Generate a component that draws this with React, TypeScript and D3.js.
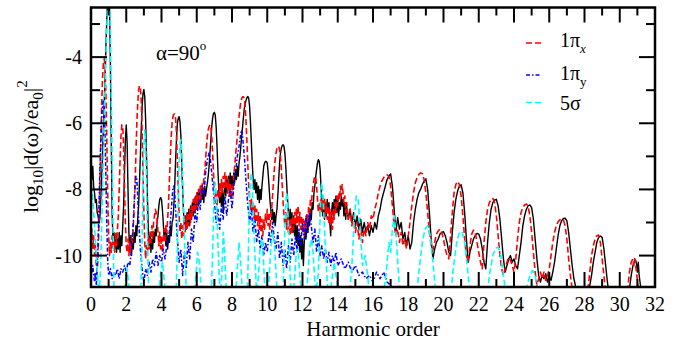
import React from 'react';
import * as d3 from 'd3';

type Pt = [number, number];

// total dipole spectrum (black, solid)
const total: Pt[] = [
  [0,-7.0],[0.05,-7.7],[0.1,-7.3],[0.15,-7.9],[0.2,-8.1],[0.25,-8.4],[0.3,-8.3],[0.35,-8.7],[0.4,-8.8],[0.45,-9.0],
  [0.5,-8.9],[0.55,-8.4],[0.6,-7.8],[0.65,-7.0],[0.7,-6.2],[0.75,-5.4],[0.8,-4.6],[0.85,-3.6],[0.9,-2.8],[0.95,-2.1],
  [1.0,-1.6],[1.05,-2.4],[1.1,-4.2],[1.15,-6.6],[1.2,-8.7],[1.25,-9.6],[1.3,-9.3],[1.35,-9.8],[1.4,-9.4],[1.45,-9.9],
  [1.5,-9.5],[1.55,-9.8],[1.6,-9.3],[1.65,-9.9],[1.7,-9.4],[1.75,-9.7],[1.8,-9.1],[1.85,-8.5],[1.9,-7.5],[1.95,-6.5],
  [2.0,-6.05],[2.05,-6.6],[2.1,-8.0],[2.15,-9.3],[2.2,-9.9],[2.25,-9.4],[2.3,-10.0],[2.35,-9.5],[2.4,-9.8],[2.45,-9.3],
  [2.5,-9.6],[2.55,-9.1],[2.6,-9.4],[2.65,-8.9],[2.7,-8.5],[2.75,-7.8],[2.8,-7.0],[2.85,-6.2],[2.9,-5.5],[2.95,-5.1],
  [3.0,-4.98],[3.05,-5.2],[3.1,-5.9],[3.15,-7.0],[3.2,-8.2],[3.25,-9.2],[3.3,-9.7],[3.35,-9.4],[3.4,-9.9],[3.45,-9.5],
  [3.5,-9.8],[3.55,-9.3],[3.6,-9.6],[3.65,-9.2],[3.7,-9.4],[3.75,-9.0],[3.8,-8.8],[3.85,-8.5],[3.9,-8.3],[3.95,-8.25],
  [4.0,-8.3],[4.05,-8.6],[4.1,-9.0],[4.15,-9.5],[4.2,-9.2],[4.25,-9.7],[4.3,-9.3],[4.35,-9.8],[4.4,-9.4],[4.45,-9.6],
  [4.5,-9.1],[4.55,-9.4],[4.6,-9.0],[4.65,-8.9],[4.7,-8.5],[4.75,-7.9],[4.8,-7.1],[4.85,-6.5],[4.9,-6.0],[4.95,-5.85],
  [5.0,-5.8],[5.05,-5.95],[5.1,-6.4],[5.15,-7.2],[5.2,-8.0],[5.25,-8.7],[5.3,-9.1],[5.35,-8.8],[5.4,-9.2],[5.45,-8.7],
  [5.5,-9.0],[5.55,-8.6],[5.6,-9.1],[5.65,-8.5],[5.7,-8.9],[5.75,-8.4],[5.8,-8.8],[5.85,-8.3],[5.9,-8.7],[5.95,-8.2],
  [6.0,-8.6],[6.05,-8.1],[6.1,-8.5],[6.15,-8.0],[6.2,-8.4],[6.25,-7.9],[6.3,-8.3],[6.35,-8.0],[6.4,-8.4],[6.45,-7.9],
  [6.5,-8.2],[6.55,-8.0],[6.6,-7.8],[6.65,-7.6],[6.7,-7.3],[6.75,-6.9],[6.8,-6.5],[6.85,-6.1],[6.9,-5.85],[6.95,-5.7],
  [7.0,-5.67],[7.05,-5.75],[7.1,-6.1],[7.15,-6.7],[7.2,-7.4],[7.25,-8.0],[7.3,-8.4],[7.35,-8.1],[7.4,-8.5],[7.45,-8.0],
  [7.5,-8.7],[7.55,-8.1],[7.6,-7.8],[7.65,-8.2],[7.7,-7.7],[7.75,-8.1],[7.8,-7.6],[7.85,-8.0],[7.9,-7.5],[7.95,-7.9],
  [8.0,-7.6],[8.05,-8.0],[8.1,-7.5],[8.15,-7.8],[8.2,-7.4],[8.25,-7.7],[8.3,-7.3],[8.35,-7.6],[8.4,-7.2],[8.45,-7.0],
  [8.5,-6.7],[8.55,-6.4],[8.6,-6.1],[8.65,-5.8],[8.7,-5.55],[8.75,-5.4],[8.8,-5.3],[8.85,-5.22],[8.9,-5.19],[8.95,-5.25],
  [9.0,-5.5],[9.05,-6.0],[9.1,-6.6],[9.15,-7.2],[9.2,-7.7],[9.25,-8.0],[9.3,-7.7],[9.35,-8.1],[9.4,-7.8],[9.45,-8.3],
  [9.5,-7.9],[9.55,-8.4],[9.6,-8.0],[9.65,-8.3],[9.7,-7.9],[9.75,-7.6],[9.8,-7.3],[9.85,-7.2],[9.9,-7.15],[9.95,-7.16],
  [10.0,-7.2],[10.05,-7.5],[10.1,-7.9],[10.15,-8.3],[10.2,-8.6],[10.25,-8.9],[10.3,-8.6],[10.35,-9.0],[10.4,-8.7],[10.45,-9.1],
  [10.5,-8.8],[10.55,-8.6],[10.6,-8.2],[10.65,-7.7],[10.7,-7.2],[10.75,-6.9],[10.8,-6.75],[10.85,-6.68],[10.9,-6.65],[10.95,-6.7],
  [11.0,-6.9],[11.05,-7.3],[11.1,-7.8],[11.15,-8.3],[11.2,-8.7],[11.25,-9.0],[11.3,-8.6],[11.35,-9.1],[11.4,-8.7],[11.45,-9.3],
  [11.5,-8.8],[11.55,-9.4],[11.6,-9.0],[11.65,-9.6],[11.7,-9.1],[11.75,-9.7],[11.8,-9.3],[11.85,-9.9],[11.9,-9.4],[11.95,-10.1],
  [12.0,-9.5],[12.05,-10.3],[12.1,-9.6],[12.15,-9.2],[12.2,-9.5],[12.25,-9.0],[12.3,-9.3],[12.35,-8.8],[12.4,-9.1],[12.45,-8.6],
  [12.5,-8.9],[12.55,-8.4],[12.6,-8.6],[12.65,-8.1],[12.7,-7.9],[12.75,-7.6],[12.8,-7.4],[12.85,-7.2],[12.9,-7.1],[12.95,-7.15],
  [13.0,-7.4],[13.05,-7.9],[13.1,-8.4],[13.15,-8.8],[13.2,-8.5],[13.25,-8.9],[13.3,-8.4],[13.35,-8.8],[13.4,-8.3],[13.45,-8.7],
  [13.5,-8.4],[13.55,-9.0],[13.6,-9.4],[13.65,-8.7],[13.7,-8.4],[13.75,-8.8],[13.8,-8.3],[13.85,-8.6],[13.9,-8.2],[13.95,-8.7],
  [14.0,-8.3],[14.05,-8.8],[14.1,-8.4],[14.15,-8.6],[14.2,-8.2],[14.25,-8.5],[14.3,-8.3],[14.35,-8.8],[14.4,-8.4],[14.45,-8.9],
  [14.5,-8.5],[14.6,-8.9],[14.7,-8.6],[14.8,-9.0],[14.9,-8.7],[15.0,-9.1],[15.1,-8.8],[15.2,-9.2],[15.3,-8.9],[15.4,-9.3],
  [15.5,-9.0],[15.6,-9.3],[15.7,-9.1],[15.8,-9.4],[15.9,-9.1],[16.0,-9.3],[16.1,-9.0],[16.2,-9.2],[16.3,-8.8],[16.4,-8.6],
  [16.5,-8.3],[16.6,-8.1],[16.7,-7.9],[16.8,-7.7],[16.9,-7.6],[17.0,-7.53],[17.1,-7.9],[17.2,-8.6],[17.3,-9.3],[17.4,-8.85],
  [17.5,-9.2],[17.6,-9.0],[17.7,-9.5],[17.8,-9.3],[17.9,-9.7],[18.0,-9.4],[18.1,-9.8],[18.2,-9.6],[18.3,-9.0],[18.4,-8.6],
  [18.5,-8.3],[18.6,-8.1],[18.7,-8.0],[18.8,-7.85],[18.9,-7.75],[19.0,-7.68],[19.1,-8.0],[19.2,-8.7],[19.3,-9.5],[19.4,-10.1],
  [19.5,-9.8],[19.6,-9.6],[19.7,-9.5],[19.8,-9.35],[19.9,-9.3],[20.0,-9.28],[20.1,-9.4],[20.2,-9.6],[20.3,-9.9],[20.4,-10.0],
  [20.5,-9.3],[20.6,-8.7],[20.7,-8.3],[20.8,-8.05],[20.9,-7.9],[21.0,-7.86],[21.1,-8.1],[21.2,-8.7],[21.3,-9.5],[21.4,-10.2],
  [21.5,-9.9],[21.6,-9.7],[21.7,-9.5],[21.8,-9.4],[21.9,-9.33],[22.0,-9.35],[22.1,-9.5],[22.2,-9.8],[22.3,-10.2],[22.4,-10.4],
  [22.5,-9.6],[22.6,-9.0],[22.7,-8.6],[22.8,-8.4],[22.9,-8.32],[23.0,-8.3],[23.1,-8.5],[23.2,-8.9],[23.3,-9.5],[23.4,-10.1],
  [23.5,-10.5],[23.6,-10.3],[23.7,-10.1],[23.8,-10.0],[23.9,-10.2],[24.0,-10.1],[24.1,-10.3],[24.2,-10.4],[24.3,-10.0],[24.4,-9.6],
  [24.5,-9.1],[24.6,-8.8],[24.7,-8.6],[24.8,-8.5],[24.9,-8.47],[25.0,-8.55],[25.1,-8.9],[25.2,-9.5],[25.3,-10.1],[25.4,-10.6],
  [25.5,-10.8],[25.6,-10.6],[25.7,-10.7],[25.8,-10.55],[25.9,-10.8],[26.0,-10.6],[26.1,-10.75],[26.2,-10.5],[26.3,-10.2],[26.4,-9.8],
  [26.5,-9.4],[26.6,-9.1],[26.7,-8.95],[26.8,-8.88],[26.9,-8.87],[27.0,-8.95],[27.1,-9.3],[27.2,-9.8],[27.3,-10.3],[27.4,-10.7],
  [27.5,-10.95],[27.7,-11.0],[27.9,-10.95],[28.1,-11.0],[28.3,-10.9],[28.4,-10.6],[28.5,-10.2],[28.6,-9.9],[28.7,-9.6],[28.8,-9.45],
  [28.9,-9.41],[29.0,-9.45],[29.1,-9.8],[29.2,-10.3],[29.3,-10.8],[29.4,-11.2],[29.6,-11.4],[30.4,-11.4],[30.55,-11.0],[30.65,-10.6],
  [30.75,-10.3],[30.85,-10.15],[30.9,-10.14],[30.95,-10.25],[31.0,-10.5],[31.05,-10.2],[31.1,-10.6],[31.2,-11.0],[31.3,-11.4],
];

// 1pi_x orbital (red, dashed)
const piX: Pt[] = [
  [0,-9.6],[0.05,-9.2],[0.1,-9.8],[0.15,-9.4],[0.2,-10.0],[0.25,-9.7],[0.3,-10.3],[0.35,-10.5],[0.4,-10.0],[0.45,-9.1],
  [0.5,-8.0],[0.55,-6.8],[0.6,-5.6],[0.65,-4.7],[0.7,-4.2],[0.75,-4.05],[0.8,-4.3],[0.85,-5.2],[0.9,-6.6],[0.95,-8.2],
  [1.0,-9.4],[1.05,-10.0],[1.1,-9.6],[1.15,-9.9],[1.2,-9.4],[1.25,-9.8],[1.3,-9.5],[1.35,-9.9],[1.4,-9.3],[1.45,-9.7],
  [1.5,-9.2],[1.55,-8.8],[1.6,-8.0],[1.65,-7.1],[1.7,-6.4],[1.75,-6.05],[1.8,-6.1],[1.85,-6.7],[1.9,-7.9],[1.95,-9.0],
  [2.0,-9.7],[2.05,-9.9],[2.1,-9.5],[2.15,-10.0],[2.2,-9.6],[2.25,-9.9],[2.3,-9.4],[2.35,-9.6],[2.4,-9.1],[2.45,-8.6],
  [2.5,-7.8],[2.55,-6.9],[2.6,-6.0],[2.65,-5.4],[2.7,-5.0],[2.75,-4.87],[2.8,-4.9],[2.85,-5.3],[2.9,-6.2],[2.95,-7.5],
  [3.0,-8.7],[3.05,-9.6],[3.1,-10.1],[3.15,-9.7],[3.2,-9.9],[3.25,-9.4],[3.3,-9.8],[3.35,-9.3],[3.4,-9.6],[3.45,-9.1],
  [3.5,-9.5],[3.55,-9.0],[3.6,-8.8],[3.65,-8.6],[3.7,-8.7],[3.75,-8.9],[3.8,-9.3],[3.85,-9.7],[3.9,-9.3],[3.95,-9.8],
  [4.0,-9.4],[4.05,-9.9],[4.1,-9.5],[4.15,-9.2],[4.2,-9.6],[4.25,-9.1],[4.3,-9.3],[4.35,-8.9],[4.4,-8.4],[4.45,-7.7],
  [4.5,-7.0],[4.55,-6.4],[4.6,-6.0],[4.65,-5.8],[4.7,-5.73],[4.75,-5.72],[4.8,-5.85],[4.85,-6.3],[4.9,-7.1],[4.95,-8.0],
  [5.0,-8.8],[5.05,-9.3],[5.1,-9.0],[5.15,-9.5],[5.2,-9.1],[5.25,-9.4],[5.3,-8.9],[5.35,-9.3],[5.4,-8.8],[5.45,-9.2],
  [5.5,-8.7],[5.55,-9.1],[5.6,-8.6],[5.65,-9.0],[5.7,-8.5],[5.75,-8.8],[5.8,-8.3],[5.85,-8.7],[5.9,-8.2],[5.95,-8.6],
  [6.0,-8.1],[6.05,-8.5],[6.1,-8.0],[6.15,-8.4],[6.2,-7.9],[6.25,-8.3],[6.3,-7.8],[6.35,-8.1],[6.4,-7.7],[6.45,-7.5],
  [6.5,-7.1],[6.55,-6.7],[6.6,-6.4],[6.65,-6.2],[6.7,-6.1],[6.75,-6.05],[6.8,-6.1],[6.85,-6.4],[6.9,-6.9],[6.95,-7.5],
  [7.0,-8.0],[7.05,-8.4],[7.1,-8.1],[7.15,-8.5],[7.2,-8.0],[7.25,-8.3],[7.3,-7.8],[7.35,-8.2],[7.4,-7.7],[7.45,-8.1],
  [7.5,-7.6],[7.55,-8.0],[7.6,-7.5],[7.65,-7.9],[7.7,-7.6],[7.75,-8.1],[7.8,-7.7],[7.85,-8.2],[7.9,-7.8],[7.95,-8.3],
  [8.0,-7.9],[8.05,-8.2],[8.1,-7.6],[8.15,-7.3],[8.2,-7.0],[8.25,-6.7],[8.3,-6.4],[8.35,-6.1],[8.4,-5.8],[8.45,-5.55],
  [8.5,-5.35],[8.55,-5.25],[8.6,-5.2],[8.65,-5.2],[8.7,-5.25],[8.75,-5.5],[8.8,-6.0],[8.85,-6.6],[8.9,-7.3],[8.95,-7.9],
  [9.0,-8.3],[9.05,-8.6],[9.1,-8.3],[9.15,-8.7],[9.2,-8.4],[9.25,-8.9],[9.3,-8.5],[9.35,-9.0],[9.4,-8.6],[9.45,-9.1],
  [9.5,-8.7],[9.55,-9.2],[9.6,-8.8],[9.65,-9.3],[9.7,-8.9],[9.75,-9.4],[9.8,-8.9],[9.85,-9.2],[9.9,-8.7],[9.95,-9.0],
  [10.0,-8.6],[10.05,-9.1],[10.1,-8.7],[10.15,-9.2],[10.2,-8.9],[10.25,-8.6],[10.3,-8.2],[10.35,-7.8],[10.4,-7.4],[10.45,-7.1],
  [10.5,-6.9],[10.55,-6.75],[10.6,-6.7],[10.65,-6.7],[10.7,-6.8],[10.75,-7.0],[10.8,-7.4],[10.85,-7.9],[10.9,-8.4],[10.95,-8.8],
  [11.0,-9.1],[11.05,-8.7],[11.1,-9.2],[11.15,-8.8],[11.2,-9.3],[11.25,-8.9],[11.3,-9.4],[11.35,-8.9],[11.4,-9.3],[11.45,-8.8],
  [11.5,-9.2],[11.55,-8.7],[11.6,-9.1],[11.65,-8.6],[11.7,-9.0],[11.75,-8.5],[11.8,-9.1],[11.85,-8.7],[11.9,-9.2],[11.95,-8.8],
  [12.0,-9.3],[12.05,-8.9],[12.1,-9.4],[12.15,-8.9],[12.2,-9.2],[12.25,-8.7],[12.3,-9.0],[12.35,-8.5],[12.4,-8.8],[12.45,-8.3],
  [12.5,-8.5],[12.55,-8.1],[12.6,-7.9],[12.65,-7.7],[12.7,-7.6],[12.75,-7.65],[12.8,-7.9],[12.85,-8.3],[12.9,-8.7],[12.95,-8.4],
  [13.0,-8.8],[13.05,-8.3],[13.1,-8.7],[13.15,-8.2],[13.2,-8.6],[13.25,-8.3],[13.3,-8.8],[13.35,-8.4],[13.4,-8.9],[13.45,-8.5],
  [13.5,-9.0],[13.55,-8.6],[13.6,-9.1],[13.65,-8.7],[13.7,-9.2],[13.75,-8.6],[13.8,-8.9],[13.85,-8.4],[13.9,-8.7],[13.95,-8.2],
  [14.0,-8.5],[14.05,-8.1],[14.1,-8.3],[14.15,-7.9],[14.2,-8.2],[14.25,-7.85],[14.3,-8.1],[14.35,-8.4],[14.4,-8.2],[14.45,-8.7],
  [14.5,-8.4],[14.6,-8.9],[14.7,-8.6],[14.8,-9.1],[14.9,-8.8],[15.0,-9.3],[15.1,-9.0],[15.2,-9.5],[15.3,-9.1],[15.4,-9.6],
  [15.5,-9.2],[15.6,-9.4],[15.7,-9.0],[15.8,-9.2],[15.9,-8.8],[16.0,-8.9],[16.1,-8.6],[16.2,-8.4],[16.3,-8.1],[16.4,-7.9],
  [16.5,-7.75],[16.6,-7.65],[16.7,-7.58],[16.8,-7.56],[16.9,-7.6],[17.0,-7.9],[17.1,-8.5],[17.2,-9.1],[17.3,-9.4],[17.4,-9.2],
  [17.5,-9.6],[17.6,-9.3],[17.7,-9.7],[17.8,-9.5],[17.9,-9.8],[18.0,-9.4],[18.1,-9.0],[18.2,-8.5],[18.3,-8.1],[18.4,-7.8],
  [18.5,-7.65],[18.6,-7.55],[18.7,-7.5],[18.8,-7.52],[18.9,-7.7],[19.0,-8.1],[19.1,-8.7],[19.2,-9.3],[19.3,-9.7],[19.4,-9.83],
  [19.5,-9.6],[19.6,-9.35],[19.7,-9.25],[19.8,-9.2],[19.9,-9.3],[20.0,-9.5],[20.1,-9.8],[20.2,-10.0],[20.3,-10.1],[20.4,-9.4],
  [20.5,-8.7],[20.6,-8.1],[20.7,-7.85],[20.8,-7.76],[20.9,-7.85],[21.0,-8.2],[21.1,-8.8],[21.2,-9.5],[21.3,-10.0],[21.4,-10.2],
  [21.5,-9.7],[21.6,-9.35],[21.7,-9.23],[21.8,-9.3],[21.9,-9.6],[22.0,-9.9],[22.1,-10.2],[22.2,-10.4],[22.3,-9.6],[22.4,-9.0],
  [22.5,-8.6],[22.6,-8.4],[22.7,-8.3],[22.8,-8.27],[22.9,-8.4],[23.0,-8.8],[23.1,-9.4],[23.2,-10.0],[23.3,-10.4],[23.4,-10.6],
  [23.5,-10.4],[23.6,-10.2],[23.7,-10.05],[23.8,-10.15],[23.9,-10.3],[24.0,-10.5],[24.1,-10.1],[24.2,-9.5],[24.3,-9.0],[24.4,-8.7],
  [24.5,-8.55],[24.6,-8.47],[24.7,-8.44],[24.8,-8.5],[24.9,-8.8],[25.0,-9.3],[25.1,-9.9],[25.2,-10.5],[25.3,-10.9],[25.4,-10.7],
  [25.5,-10.5],[25.6,-10.7],[25.7,-10.5],[25.8,-10.75],[25.9,-10.6],[26.0,-10.4],[26.1,-10.0],[26.2,-9.6],[26.3,-9.3],[26.4,-9.1],
  [26.5,-8.98],[26.6,-8.92],[26.7,-8.9],[26.8,-8.92],[26.9,-9.1],[27.0,-9.5],[27.1,-10.1],[27.2,-10.6],[27.3,-11.0],[27.4,-11.3],
  [28.0,-11.3],[28.2,-11.0],[28.3,-10.5],[28.4,-10.0],[28.5,-9.7],[28.6,-9.5],[28.7,-9.4],[28.8,-9.38],[28.9,-9.6],[29.0,-10.1],
  [29.1,-10.6],[29.2,-11.1],[29.3,-11.4],[30.3,-11.4],[30.45,-11.0],[30.55,-10.5],[30.65,-10.2],[30.75,-10.1],[30.8,-10.3],[30.85,-10.09],
  [30.95,-10.5],[31.05,-11.0],[31.15,-11.4],
];

// 1pi_y orbital (blue, dash-dot)
const piY: Pt[] = [
  [0,-10.2],[0.05,-10.5],[0.1,-10.3],[0.15,-10.6],[0.2,-10.8],[0.25,-10.5],[0.3,-10.9],[0.35,-10.4],[0.4,-9.6],[0.45,-8.6],
  [0.5,-7.5],[0.55,-6.6],[0.6,-5.9],[0.65,-5.5],[0.7,-5.3],[0.75,-5.5],[0.8,-6.4],[0.85,-7.8],[0.9,-9.2],[0.95,-10.2],
  [1.0,-10.6],[1.1,-10.4],[1.2,-10.7],[1.3,-10.5],[1.4,-10.6],[1.5,-10.4],[1.6,-10.7],[1.7,-10.4],[1.8,-10.5],[1.9,-10.3],
  [2.0,-10.5],[2.1,-10.2],[2.2,-10.3],[2.3,-9.8],[2.4,-9.0],[2.45,-8.4],[2.5,-7.9],[2.55,-7.6],[2.6,-7.7],[2.65,-8.2],
  [2.7,-8.9],[2.8,-9.8],[2.9,-10.4],[3.0,-10.8],[3.1,-10.4],[3.2,-10.6],[3.3,-10.2],[3.4,-10.5],[3.5,-10.1],[3.6,-10.3],
  [3.7,-9.9],[3.8,-10.3],[3.9,-10.0],[4.0,-10.2],[4.1,-9.8],[4.2,-10.1],[4.3,-9.7],[4.4,-9.5],[4.5,-9.0],[4.6,-8.3],
  [4.65,-7.95],[4.7,-7.9],[4.75,-8.1],[4.8,-8.6],[4.9,-9.5],[5.0,-10.2],[5.1,-9.8],[5.2,-10.6],[5.3,-9.9],[5.4,-10.4],
  [5.5,-9.6],[5.6,-10.1],[5.7,-9.2],[5.8,-9.6],[5.9,-8.7],[6.0,-9.0],[6.1,-8.3],[6.2,-8.6],[6.3,-7.9],[6.4,-8.2],
  [6.5,-7.5],[6.6,-7.1],[6.7,-6.9],[6.8,-7.2],[6.9,-7.8],[7.0,-8.4],[7.1,-9.0],[7.2,-8.6],[7.3,-9.2],[7.4,-8.5],
  [7.5,-8.9],[7.6,-8.2],[7.7,-8.8],[7.8,-8.3],[7.9,-8.0],[8.0,-8.6],[8.1,-7.9],[8.2,-7.5],[8.3,-7.0],[8.4,-6.7],
  [8.5,-6.3],[8.55,-6.2],[8.6,-6.4],[8.7,-7.0],[8.8,-7.8],[8.9,-8.5],[9.0,-9.0],[9.1,-8.6],[9.2,-9.3],[9.3,-8.9],
  [9.4,-9.6],[9.5,-9.2],[9.6,-9.8],[9.7,-9.4],[9.8,-10.0],[9.9,-9.6],[10.0,-9.9],[10.1,-9.3],[10.2,-9.6],[10.3,-9.0],
  [10.4,-9.5],[10.5,-9.8],[10.6,-9.3],[10.7,-10.1],[10.8,-9.6],[10.9,-10.3],[11.0,-9.8],[11.1,-10.4],[11.2,-9.7],[11.3,-10.2],
  [11.4,-9.5],[11.5,-10.0],[11.6,-9.4],[11.7,-9.9],[11.8,-9.2],[11.9,-9.7],[12.0,-9.0],[12.1,-9.5],[12.2,-8.8],[12.3,-9.3],
  [12.4,-8.7],[12.5,-9.1],[12.6,-9.6],[12.7,-9.2],[12.8,-9.9],[12.9,-9.4],[13.0,-10.0],[13.1,-9.7],[13.2,-10.1],[13.3,-9.8],
  [13.4,-10.2],[13.5,-9.9],[13.6,-10.3],[13.7,-10.0],[13.8,-10.2],[13.9,-9.9],[14.0,-10.3],[14.2,-10.1],[14.4,-10.4],[14.6,-10.2],
  [14.8,-10.5],[15.0,-10.3],[15.2,-10.6],[15.4,-10.5],[15.6,-10.7],[15.8,-10.6],[16.0,-10.8],[16.2,-10.5],[16.4,-10.7],[16.6,-10.5],
  [16.8,-10.8],[17.0,-10.9],[17.2,-11.1],[17.4,-11.3],[18.0,-11.5],
];

// 5sigma orbital (cyan, dashed)
const sigma5: Pt[] = [
  [0,-7.6],[0.1,-8.3],[0.2,-9.1],[0.3,-10.0],[0.4,-10.8],[0.45,-11.3],[0.55,-10.3],[0.65,-8.1],[0.75,-5.9],[0.85,-3.9],
  [0.95,-2.2],[1.0,-1.6],[1.05,-2.0],[1.1,-3.3],[1.15,-5.1],[1.2,-7.1],[1.25,-9.1],[1.3,-10.9],[1.35,-11.6],[1.8,-11.6],
  [1.95,-10.8],[2.05,-10.4],[2.15,-10.9],[2.3,-11.6],[2.8,-11.6],[2.9,-9.5],[2.95,-7.8],[3.0,-6.7],[3.05,-6.2],[3.1,-6.6],
  [3.15,-7.8],[3.2,-9.5],[3.3,-11.6],[3.8,-11.6],[3.95,-10.5],[4.05,-10.2],[4.15,-10.7],[4.3,-11.6],[4.8,-11.6],[4.9,-9.8],
  [4.95,-8.3],[5.0,-7.2],[5.05,-6.6],[5.1,-6.5],[5.15,-6.8],[5.2,-7.7],[5.3,-9.4],[5.4,-11.0],[5.5,-11.6],[5.85,-11.6],
  [5.95,-10.6],[6.05,-9.9],[6.15,-10.2],[6.25,-11.0],[6.35,-11.6],[6.8,-11.6],[6.9,-9.9],[6.95,-8.8],[7.0,-8.0],[7.05,-7.8],
  [7.1,-8.1],[7.15,-8.9],[7.25,-10.3],[7.35,-11.4],[7.45,-10.2],[7.5,-9.3],[7.55,-9.6],[7.65,-10.8],[7.75,-11.6],[8.15,-11.6],
  [8.3,-10.4],[8.4,-9.6],[8.5,-10.3],[8.65,-11.6],[8.85,-11.6],[8.95,-9.4],[9.0,-8.2],[9.05,-7.6],[9.1,-7.5],[9.15,-7.8],
  [9.2,-8.6],[9.3,-10.0],[9.4,-11.2],[9.5,-10.6],[9.6,-9.7],[9.7,-9.5],[9.8,-10.3],[9.9,-11.4],[10.05,-11.2],[10.2,-9.8],
  [10.3,-9.3],[10.4,-9.6],[10.55,-11.0],[10.7,-11.6],[10.9,-11.0],[11.0,-9.2],[11.05,-8.4],[11.1,-8.1],[11.15,-8.3],[11.2,-9.1],
  [11.3,-10.6],[11.4,-11.6],[11.55,-10.7],[11.65,-9.9],[11.75,-9.8],[11.85,-10.6],[12.0,-11.6],[12.25,-11.0],[12.4,-9.8],[12.5,-9.5],
  [12.6,-9.9],[12.75,-11.2],[12.9,-10.5],[13.0,-8.8],[13.05,-8.0],[13.1,-7.8],[13.15,-8.1],[13.25,-9.2],[13.4,-10.8],[13.5,-11.6],
  [13.65,-10.8],[13.8,-10.2],[13.95,-10.8],[14.1,-11.6],[14.6,-11.6],[14.8,-10.3],[14.95,-8.8],[15.05,-8.2],[15.15,-8.3],[15.25,-9.0],
  [15.4,-10.3],[15.55,-10.0],[15.7,-10.6],[15.85,-11.6],[16.5,-11.6],[16.75,-10.5],[16.9,-9.6],[17.0,-9.9],[17.1,-9.2],[17.2,-8.8],
  [17.3,-9.3],[17.45,-10.6],[17.6,-11.6],[18.4,-11.6],[18.6,-10.5],[18.8,-9.6],[18.95,-9.2],[19.1,-9.1],[19.25,-9.4],[19.45,-10.5],
  [19.65,-11.6],[20.35,-11.6],[20.55,-10.4],[20.75,-9.6],[20.9,-9.3],[21.05,-9.28],[21.2,-9.6],[21.4,-10.6],[21.6,-11.6],[22.4,-11.6],
  [22.6,-10.6],[22.8,-10.0],[22.95,-9.78],[23.1,-9.74],[23.25,-10.0],[23.45,-10.8],[23.6,-11.6],[24.5,-11.6],[24.7,-11.0],[24.9,-10.6],
  [25.05,-10.45],[25.2,-10.6],[25.4,-11.2],[25.55,-11.6],
];

const xMajor = d3.range(0, 33, 2);
const xMinor = d3.range(1, 32, 2);
const yMajor = [-4, -6, -8, -10];
const yMinor = [-3, -5, -7, -9];

const W = 682, H = 341;
const L = 91, R = 655, T = 7.5, B = 287;
const serif = '"Liberation Serif", "DejaVu Serif", serif';

export default function App() {
  const x = d3.scaleLinear().domain([0, 32]).range([L, R]);
  const y = d3.scaleLinear().domain([-10.95, -2.5]).range([B, T]);
  const line = d3.line<Pt>().x(d => x(d[0])).y(d => y(d[1]));

  const series = [
    { data: total, color: '#000000', dash: undefined, w: 1.4 },
    { data: piX, color: '#ff0000', dash: '6,3', w: 1.6 },
    { data: piY, color: '#0000ff', dash: '4,2,1.5,2', w: 1.5 },
    { data: sigma5, color: '#00ffff', dash: '6,3', w: 1.6 },
  ];

  const legend = [
    { color: '#ff0000', dash: '6,3', ly: 43, ty: 47, main: '1π', sub: 'x', italic: true },
    { color: '#0000ff', dash: '4,2,1.5,2', ly: 75, ty: 80, main: '1π', sub: 'y', italic: false },
    { color: '#00ffff', dash: '6,3', ly: 102.5, ty: 110, main: '5σ', sub: '', italic: false },
  ];

  return (
    <svg width={W} height={H} style={{ position: 'absolute', left: 0, top: 0, background: '#fff' }}
      fontFamily={serif}>
      <defs>
        <clipPath id="plot"><rect x={L} y={T} width={R - L} height={B - T} /></clipPath>
      </defs>
      <g clipPath="url(#plot)">
        {series.map((s, i) => (
          <path key={i} d={line(s.data) || ''} fill="none" stroke={s.color}
            strokeWidth={s.w} strokeDasharray={s.dash} strokeLinejoin="round" />
        ))}
      </g>

      {/* ticks on all four sides, pointing inward */}
      <g stroke="#000" strokeWidth={2}>
        {xMajor.map(v => (
          <g key={'xM' + v}>
            <line x1={x(v)} x2={x(v)} y1={B} y2={B - 15} />
            <line x1={x(v)} x2={x(v)} y1={T} y2={T + 15} />
          </g>
        ))}
        {xMinor.map(v => (
          <g key={'xm' + v}>
            <line x1={x(v)} x2={x(v)} y1={B} y2={B - 8} />
            <line x1={x(v)} x2={x(v)} y1={T} y2={T + 8} />
          </g>
        ))}
        {yMajor.map(v => (
          <g key={'yM' + v}>
            <line x1={L} x2={L + 16} y1={y(v)} y2={y(v)} />
            <line x1={R} x2={R - 16} y1={y(v)} y2={y(v)} />
          </g>
        ))}
        {yMinor.map(v => (
          <g key={'ym' + v}>
            <line x1={L} x2={L + 9} y1={y(v)} y2={y(v)} />
            <line x1={R} x2={R - 9} y1={y(v)} y2={y(v)} />
          </g>
        ))}
      </g>
      <rect x={L} y={T} width={R - L} height={B - T} fill="none" stroke="#000" strokeWidth={2.5} />

      <g fontSize={20} fill="#000" fontFamily={serif}>
        {xMajor.map(v => (
          <text key={'xl' + v} x={x(v)} y={311} textAnchor="middle">{v}</text>
        ))}
        {yMajor.map(v => (
          <text key={'yl' + v} x={82} y={y(v) + 7} textAnchor="end">{v}</text>
        ))}
      </g>

      <text x={(L + R) / 2} y={336} textAnchor="middle" fontSize={21} fontFamily={serif}>Harmonic order</text>

      <text transform="translate(38,213) rotate(-90)" fontSize={22} fontFamily={serif}>
        log<tspan fontSize={15} dy={5}>10</tspan>
        <tspan dy={-5}>|d(ω)/ea</tspan><tspan fontSize={15} dy={5}>0</tspan>
        <tspan dy={-5}>|</tspan><tspan fontSize={15} dy={-11}>2</tspan>
      </text>

      <text x={156} y={60} fontSize={21} fontFamily={serif}>
        α=90<tspan fontSize={13} dy={-10}>o</tspan>
      </text>

      {legend.map((g, i) => (
        <g key={'lg' + i}>
          <line x1={526} x2={541} y1={g.ly} y2={g.ly} stroke={g.color} strokeWidth={1.5}
            strokeDasharray={g.dash} />
          <text x={560} y={g.ty} fontSize={20} fontFamily={serif}>
            {g.main}
            {g.sub && (
              <tspan fontSize={13} dy={6} fontStyle={g.italic ? 'italic' : 'normal'}>{g.sub}</tspan>
            )}
          </text>
        </g>
      ))}
    </svg>
  );
}
